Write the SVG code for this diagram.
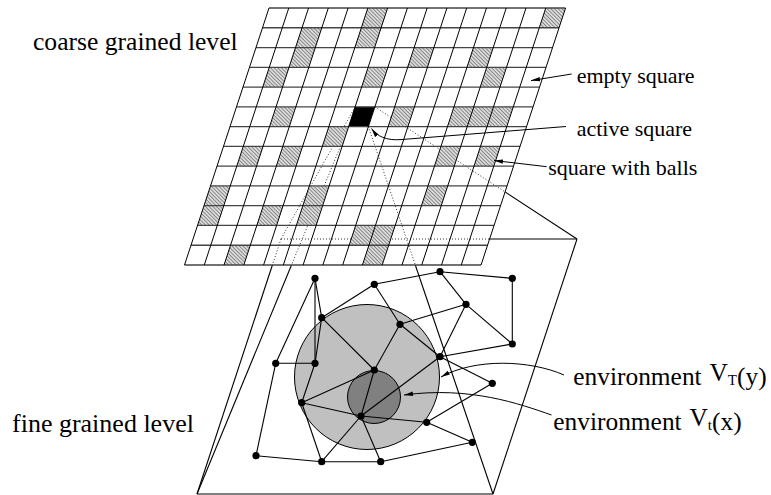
<svg xmlns="http://www.w3.org/2000/svg" xmlns:xlink="http://www.w3.org/1999/xlink" width="771" height="495" viewBox="0 0 771 495">
<style>
.h{stroke:#444;stroke-width:1.3;fill:none}
.v{stroke:#000;stroke-width:1;fill:none}
.dot{stroke:#333;stroke-width:1;stroke-dasharray:1 2;fill:none}
.ln{stroke:#000;stroke-width:1.1;fill:none}
.gl{stroke:#555;stroke-width:1.3;fill:none}
.e{stroke:#000;stroke-width:1.1;fill:none}
.n{fill:#000}
.lbl{font-family:"Liberation Serif","Times New Roman",serif;fill:#000}
.arr{stroke:#000;stroke-width:1;fill:none;marker-end:url(#ah)}
</style>
<defs>
<pattern id="hatch" patternUnits="userSpaceOnUse" width="2.6" height="2.6" patternTransform="rotate(-45)">
<rect width="2.6" height="2.6" fill="#dcdcdc"/>
<line x1="0" y1="0" x2="0" y2="2.6" stroke="#555" stroke-width="1.2"/>
</pattern>
<path id="cell" d="M0,0 h19.77 l-6.5,19.77 h-19.77 z"/>
<marker id="ah" markerWidth="10" markerHeight="6" refX="9" refY="3" orient="auto" markerUnits="userSpaceOnUse">
<path d="M0,0.8 L9,3 L0,5.2 z" fill="#000"/>
</marker>
</defs>

<g id="lower-plane">
<path class="dot" d="M281,239 L489.5,239"/>
<path class="gl" d="M489.5,239 L577,239"/>
<path class="ln" d="M577,239 L493,494"/>
<path class="gl" d="M197,494 L493,494"/>
<path class="dot" d="M281,239 L272.4,265"/>
<path class="ln" d="M272.4,265 L197,494"/>
</g>

<g id="projection-lines">
<path class="dot" d="M355.1,106.9 L281,239"/>
<path class="dot" d="M374.9,106.9 L505,191.9"/>
<path class="ln" d="M505,191.9 L577,239"/>
<path class="dot" d="M368.4,126.6 L415.3,265"/>
<path class="ln" d="M415.3,265 L493,494"/>
<path class="dot" d="M348.6,126.6 L291.5,265"/>
<path class="ln" d="M291.5,265 L197,494"/>
</g>

<g id="coarse-grid">
<g fill="url(#hatch)">
<use xlink:href="#cell" x="367.85" y="8"/>
<use xlink:href="#cell" x="545.78" y="8"/>
<use xlink:href="#cell" x="302.04" y="27.77"/>
<use xlink:href="#cell" x="361.35" y="27.77"/>
<use xlink:href="#cell" x="295.54" y="47.54"/>
<use xlink:href="#cell" x="414.16" y="47.54"/>
<use xlink:href="#cell" x="473.47" y="47.54"/>
<use xlink:href="#cell" x="269.27" y="67.31"/>
<use xlink:href="#cell" x="368.12" y="67.31"/>
<use xlink:href="#cell" x="486.74" y="67.31"/>
<use xlink:href="#cell" x="276.04" y="106.85"/>
<use xlink:href="#cell" x="394.66" y="106.85"/>
<use xlink:href="#cell" x="453.97" y="106.85"/>
<use xlink:href="#cell" x="473.74" y="106.85"/>
<use xlink:href="#cell" x="493.51" y="106.85"/>
<use xlink:href="#cell" x="328.85" y="126.62"/>
<use xlink:href="#cell" x="243.27" y="146.39"/>
<use xlink:href="#cell" x="282.81" y="146.39"/>
<use xlink:href="#cell" x="440.97" y="146.39"/>
<use xlink:href="#cell" x="480.51" y="146.39"/>
<use xlink:href="#cell" x="210.5" y="185.93"/>
<use xlink:href="#cell" x="309.35" y="185.93"/>
<use xlink:href="#cell" x="427.97" y="185.93"/>
<use xlink:href="#cell" x="204" y="205.7"/>
<use xlink:href="#cell" x="263.31" y="205.7"/>
<use xlink:href="#cell" x="302.85" y="205.7"/>
<use xlink:href="#cell" x="355.66" y="225.47"/>
<use xlink:href="#cell" x="375.43" y="225.47"/>
<use xlink:href="#cell" x="230.54" y="245.24"/>
<use xlink:href="#cell" x="368.93" y="245.24"/>
</g>
<use id="active-square" xlink:href="#cell" x="355.12" y="106.85" fill="#000"/>
<g class="h">
<line x1="269" y1="8" x2="565.5" y2="8"/>
<line x1="262.5" y1="27.77" x2="559" y2="27.77"/>
<line x1="256" y1="47.54" x2="552.5" y2="47.54"/>
<line x1="249.5" y1="67.31" x2="546" y2="67.31"/>
<line x1="243" y1="87.08" x2="539.5" y2="87.08"/>
<line x1="236.5" y1="106.85" x2="533" y2="106.85"/>
<line x1="230" y1="126.62" x2="526.5" y2="126.62"/>
<line x1="223.5" y1="146.39" x2="520" y2="146.39"/>
<line x1="217" y1="166.16" x2="513.5" y2="166.16"/>
<line x1="210.5" y1="185.93" x2="507" y2="185.93"/>
<line x1="204" y1="205.7" x2="500.5" y2="205.7"/>
<line x1="197.5" y1="225.47" x2="494" y2="225.47"/>
<line x1="191" y1="245.24" x2="487.5" y2="245.24"/>
<line x1="184.5" y1="265" x2="481" y2="265"/>
</g>
<g class="v">
<line x1="269" y1="8" x2="184.5" y2="265"/>
<line x1="288.77" y1="8" x2="204.27" y2="265"/>
<line x1="308.54" y1="8" x2="224.04" y2="265"/>
<line x1="328.31" y1="8" x2="243.81" y2="265"/>
<line x1="348.08" y1="8" x2="263.58" y2="265"/>
<line x1="367.85" y1="8" x2="283.35" y2="265"/>
<line x1="387.62" y1="8" x2="303.12" y2="265"/>
<line x1="407.39" y1="8" x2="322.89" y2="265"/>
<line x1="427.16" y1="8" x2="342.66" y2="265"/>
<line x1="446.93" y1="8" x2="362.43" y2="265"/>
<line x1="466.7" y1="8" x2="382.2" y2="265"/>
<line x1="486.47" y1="8" x2="401.97" y2="265"/>
<line x1="506.24" y1="8" x2="421.74" y2="265"/>
<line x1="526.01" y1="8" x2="441.51" y2="265"/>
<line x1="545.78" y1="8" x2="461.28" y2="265"/>
<line x1="565.55" y1="8" x2="481.05" y2="265"/>
</g>
</g>

<g id="environment-circles">
<circle id="env-VT" cx="367" cy="377" r="72.5" fill="#c0c0c0" stroke="#000" stroke-width="1"/>
<circle id="env-Vt" cx="374" cy="397" r="26.5" fill="#808080" stroke="#000" stroke-width="1"/>
</g>

<g id="graph-edges" class="e">
<line x1="315" y1="278.3" x2="321.7" y2="317.7"/>
<line x1="315" y1="278.3" x2="315" y2="363.3"/>
<line x1="315" y1="278.3" x2="275.7" y2="363.3"/>
<line x1="321.7" y1="317.7" x2="315" y2="363.3"/>
<line x1="275.7" y1="363.3" x2="315" y2="363.3"/>
<line x1="275.7" y1="363.3" x2="256" y2="455.7"/>
<line x1="315" y1="363.3" x2="301.7" y2="402.7"/>
<line x1="321.7" y1="317.7" x2="374.3" y2="284.3"/>
<line x1="374.3" y1="284.3" x2="440" y2="271.7"/>
<line x1="440" y1="271.7" x2="512.3" y2="278.3"/>
<line x1="440" y1="271.7" x2="466" y2="304.3"/>
<line x1="512.3" y1="278.3" x2="512.3" y2="344"/>
<line x1="466" y1="304.3" x2="512.3" y2="344"/>
<line x1="466" y1="304.3" x2="400" y2="324.3"/>
<line x1="374.3" y1="284.3" x2="400" y2="324.3"/>
<line x1="400" y1="324.3" x2="374.3" y2="370"/>
<line x1="400" y1="324.3" x2="440" y2="356.7"/>
<line x1="321.7" y1="317.7" x2="374.3" y2="370"/>
<line x1="440" y1="356.7" x2="512.3" y2="344"/>
<line x1="440" y1="356.7" x2="466" y2="304.3"/>
<line x1="440" y1="356.7" x2="492.3" y2="383.3"/>
<line x1="440" y1="356.7" x2="361" y2="416"/>
<line x1="374.3" y1="370" x2="301.7" y2="402.7"/>
<line x1="374.3" y1="370" x2="361" y2="416"/>
<line x1="301.7" y1="402.7" x2="361" y2="416"/>
<line x1="301.7" y1="402.7" x2="321.7" y2="461.7"/>
<line x1="361" y1="416" x2="321.7" y2="461.7"/>
<line x1="361" y1="416" x2="380.7" y2="461.7"/>
<line x1="361" y1="416" x2="426.7" y2="422.3"/>
<line x1="256" y1="455.7" x2="321.7" y2="461.7"/>
<line x1="321.7" y1="461.7" x2="380.7" y2="461.7"/>
<line x1="380.7" y1="461.7" x2="472.3" y2="442.3"/>
<line x1="426.7" y1="422.3" x2="472.3" y2="442.3"/>
<line x1="492.3" y1="383.3" x2="426.7" y2="422.3"/>
</g>

<g id="graph-nodes" class="n">
<circle cx="315" cy="278.3" r="3.6"/>
<circle cx="374.3" cy="284.3" r="3.6"/>
<circle cx="440" cy="271.7" r="3.6"/>
<circle cx="512.3" cy="278.3" r="3.6"/>
<circle cx="466" cy="304.3" r="3.6"/>
<circle cx="321.7" cy="317.7" r="3.6"/>
<circle cx="400" cy="324.3" r="3.6"/>
<circle cx="512.3" cy="344" r="3.6"/>
<circle cx="440" cy="356.7" r="3.6"/>
<circle cx="275.7" cy="363.3" r="3.6"/>
<circle cx="315" cy="363.3" r="3.6"/>
<circle cx="374.3" cy="370" r="3.6"/>
<circle cx="492.3" cy="383.3" r="3.6"/>
<circle cx="301.7" cy="402.7" r="3.6"/>
<circle cx="361" cy="416" r="3.6"/>
<circle cx="426.7" cy="422.3" r="3.6"/>
<circle cx="472.3" cy="442.3" r="3.6"/>
<circle cx="256" cy="455.7" r="3.6"/>
<circle cx="321.7" cy="461.7" r="3.6"/>
<circle cx="380.7" cy="461.7" r="3.6"/>
</g>

<g id="callouts">
<path class="arr" d="M571.7,74 L531,80.6"/>
<path class="arr" d="M566,126.5 L402,139.5 C386,141 377,136 371.5,128.5"/>
<path class="arr" d="M546.7,166.7 L494,160.5"/>
<path class="arr" d="M564,375 C530,360 475,358 441,377"/>
<path class="arr" d="M551.5,415 C520,404 470,386 404,395"/>
</g>

<g id="labels" class="lbl" font-family="'Liberation Serif', 'Times New Roman', serif">
<text x="33" y="50" font-size="25.6">coarse grained level</text>
<text x="12" y="432" font-size="26">fine grained level</text>
<text x="576.7" y="83.3" font-size="22">empty square</text>
<text x="576.7" y="136" font-size="22">active square</text>
<text x="548.3" y="175" font-size="22">square with balls</text>
<text x="573.3" y="385" font-size="25.4">environment <tspan dx="2" dy="-4">V</tspan><tspan font-size="15" dy="4">T</tspan><tspan>(y)</tspan></text>
<text x="553.3" y="430" font-size="25.4">environment <tspan dx="2" dy="-4">V</tspan><tspan font-size="15" dy="4">t</tspan><tspan>(x)</tspan></text>
</g>
</svg>
